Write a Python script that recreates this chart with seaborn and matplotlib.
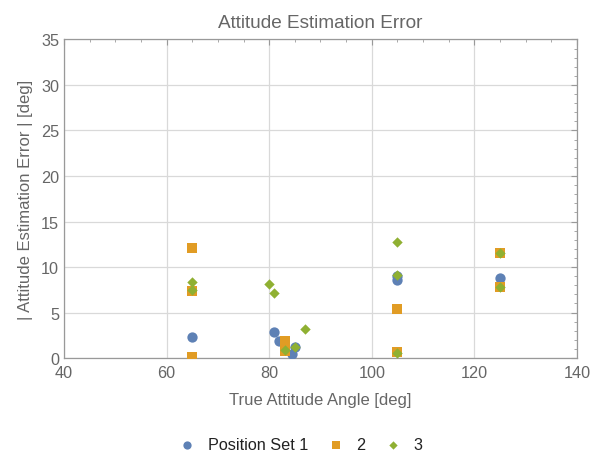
import matplotlib
matplotlib.use("Agg")
import matplotlib.pyplot as plt
import seaborn as sns
import pandas as pd
from matplotlib.ticker import MultipleLocator

s1_x = [65, 81, 82, 84.5, 85, 105, 105, 125]
s1_y = [2.3, 2.9, 1.9, 0.4, 1.2, 9.0, 8.6, 8.75]
s2_x = [65, 65, 65, 83, 83, 105, 105, 125, 125]
s2_y = [12.1, 7.4, 0.1, 1.9, 0.8, 5.4, 0.7, 11.5, 7.8]
s3_x = [65, 65, 80, 81, 83, 85, 87, 105, 105, 105, 125, 125]
s3_y = [8.4, 7.5, 8.1, 7.1, 0.9, 1.2, 3.2, 12.8, 9.1, 0.6, 11.5, 7.8]
labels = ["Position Set 1", "2", "3"]

df = pd.concat([
    pd.DataFrame({"x": s1_x, "y": s1_y, "set": labels[0]}),
    pd.DataFrame({"x": s2_x, "y": s2_y, "set": labels[1]}),
    pd.DataFrame({"x": s3_x, "y": s3_y, "set": labels[2]}),
])

sns.set_theme(style="white")
plt.rcParams['font.family'] = ['Liberation Sans', 'DejaVu Sans']
gray = "#666666"
colors = ["#5E81B5", "#E19C24", "#8FB032"]
markers = ["o", "s", "D"]
sizes = [55, 60, 28]

fig = plt.figure(figsize=(5.91, 4.56), dpi=100)
ax = fig.add_axes([0.1083, 0.2127, 0.868, 0.6985])

for lab, c, m, s in zip(labels, colors, markers, sizes):
    sub = df[df["set"] == lab]
    sns.scatterplot(data=sub, x="x", y="y", color=c, marker=m, s=s,
                    linewidth=0, ax=ax, label=lab, zorder=3)

ax.set_xlim(40, 140)
ax.set_ylim(0, 35)
ax.xaxis.set_major_locator(MultipleLocator(20))
ax.xaxis.set_minor_locator(MultipleLocator(5))
ax.yaxis.set_major_locator(MultipleLocator(5))
ax.yaxis.set_minor_locator(MultipleLocator(1))
ax.grid(True, which="major", color="#d9d9d9", linewidth=0.9, zorder=0)
ax.set_axisbelow(True)
for sp in ax.spines.values():
    sp.set_color("#999999")
    sp.set_linewidth(0.9)
ax.tick_params(which="both", direction="in", top=True, right=True,
               colors="#999999", labelcolor=gray, labelsize=11.7)
ax.tick_params(which="major", length=4, width=0.8)
ax.tick_params(which="minor", length=2.2, width=0.6)
ax.tick_params(axis="x", which="major", pad=5)

ax.set_xlabel("True Attitude Angle [deg]", color=gray, fontsize=12, labelpad=9)
ax.set_ylabel("| Attitude Estimation Error | [deg]", color=gray, fontsize=12, labelpad=6)
ax.set_title("Attitude Estimation Error", color=gray, fontsize=13.7, pad=9)

h, l = ax.get_legend_handles_labels()
ax.get_legend().remove()
leg = fig.legend(h, l, loc="center", bbox_to_anchor=(0.51, 0.022), ncol=3,
                 frameon=False, fontsize=11.7, handlelength=0.8,
                 handletextpad=0.85, columnspacing=1.3, markerscale=0.8)
for t in leg.get_texts():
    t.set_color("#222222")

fig.savefig("out.png", dpi=100)
